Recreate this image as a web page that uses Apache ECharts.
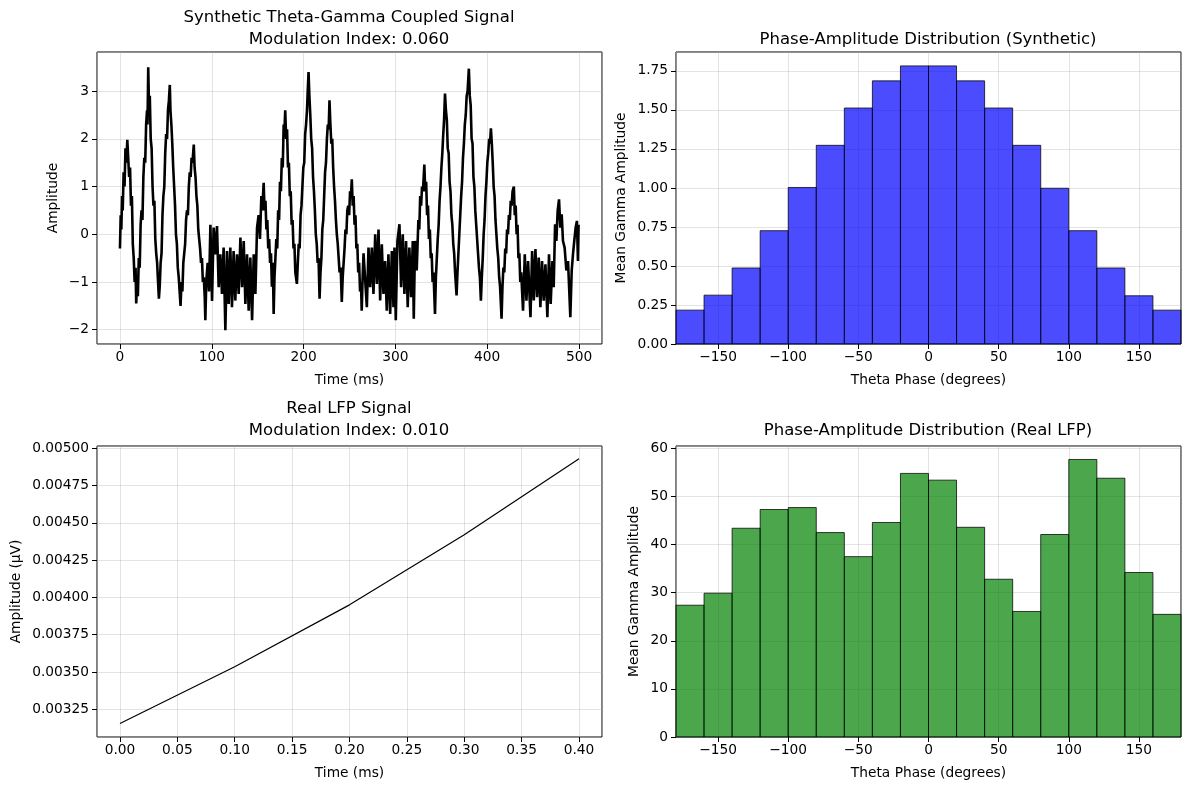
<!DOCTYPE html>
<html>
<head>
<meta charset="utf-8">
<title>Theta-Gamma Coupling</title>
<script src="https://cdn.jsdelivr.net/npm/echarts@6/dist/echarts.min.js"></script>
<style>
  html, body { margin: 0; padding: 0; background: #fff; }
  #main { width: 1189px; height: 790px; }
</style>
</head>
<body>
<div id="main"></div>
<script>
// synthetic signal (ms, amplitude)
const synthTime = [
  0, 0.8, 1.5, 2.3, 3, 4, 5, 6, 7, 8, 9, 10, 11, 12, 13, 14, 15, 16, 17, 17.7, 18.5, 19.5, 20.5, 21.5, 22.5, 23.5, 24.5, 25.5, 26.5, 27.5,
  28.5, 29.5, 30, 30.8, 31.5, 32.5, 33.5, 34.5, 35.5, 36.5, 37.5, 38.5, 39.5, 40.5, 41.5, 42.4, 43.3, 44.3, 45.3, 46.3, 47.3, 48.3, 49.3,
  50.3, 51.3, 52.3, 53.3, 54.3, 55, 56, 57, 58, 59, 60, 61, 62, 63, 64, 65, 66, 67, 68, 69, 70, 71, 72, 73, 74, 75, 76, 77, 78, 79, 80.4,
  81.3, 82.3, 83.3, 84.3, 85.3, 86.3, 87.3, 88.3, 89.3, 90.3, 91.3, 92.3, 93, 94,
  95.5, 97, 98.5, 100.3, 102, 103.8, 105.7, 107.5, 109.3, 111.1, 112.9, 114.8, 116.6, 118.4, 120.2, 122, 123.8, 125.6, 127.5, 129.3,
  131.2, 133, 134.8, 136.6, 138.4, 140.2, 142, 143.9, 145.7, 147.5, 149.3,
  151, 152.5, 154, 155, 156.5, 157.5, 158.5, 159.5, 160.5, 161.5, 162.5, 163.5, 164.5, 165.5, 166.5, 167.4, 168.3, 169.3, 170.3, 171.3,
  172.3, 173.3, 174.3, 175.3, 176.3, 177.3, 178.3, 179, 180, 181, 182, 183, 184, 185, 186, 187, 188, 189, 190, 191, 192.7, 193.7, 194.7,
  195.7, 196.7, 197.7, 198.7, 199.7, 200.7, 201.7, 202.7, 203.7, 204.5, 205.4, 206.3, 207.3, 208.3, 209.3, 210.3, 211.3, 212.3, 213.3,
  214.3, 215.3, 216.3, 217.4, 218.4, 219.4, 220.4, 221.4, 222.4, 223.4, 224.4, 225.4, 226.4, 227.3, 228.2, 229.2, 230.2, 231.2, 232.2,
  233.2, 234.2, 235.2, 236.2, 237.2, 238.2, 239.2, 240.4, 241.6, 242.6, 243.6, 244.6, 245.6, 246.6, 247.6, 248.6, 249.6, 250.6, 251.6,
  252.5, 253.5, 254.5, 255.5, 256.5, 257.5, 258.5, 259.5, 260.5, 261.5, 262.5, 263.3, 264.3, 265.3,
  267.1, 268.9, 270.7, 272.5, 274.3, 276.1, 278, 279.8, 281.6, 283.4, 285.2, 287, 288.8, 290.6, 292.4, 294.3, 296.1, 297.9, 299, 300.4,
  302.2, 304.4, 306.2, 308, 309.8, 311.6, 313.4, 315.2, 317.1, 318.9, 320, 321.4, 323.2,
  324, 325, 326, 327, 328, 329, 330, 331.5, 332.5, 333.5, 334.5, 335.5, 336.5, 337.5, 338.5, 339.5, 340.5, 341.5, 343.1, 344.1, 345.1,
  346.1, 347.1, 348.1, 349.1, 350.1, 351.1, 352.1, 353, 354, 355, 356, 357, 358, 359, 360, 361, 362, 363, 364, 365, 366.6, 367.6, 368.6,
  369.6, 370.6, 371.6, 372.6, 373.6, 374.6, 375.6, 376.6, 377.6, 378.6, 380, 381, 382, 383, 384, 385, 386, 387, 388, 389, 390, 391, 392,
  393.1, 394.1, 395.1, 396.1, 397.1, 398.1, 399.1, 400.1, 401.1, 402.1, 403, 404, 405, 406, 407, 408, 409, 410, 411, 412, 413, 414,
  415.6, 416.6, 417.6, 418.6, 419.6, 420.6, 421.6, 422.6, 423.6, 424.6, 425.6, 426.6, 427.6, 429, 430, 431, 432, 433, 434, 435, 436, 437, 439,
  440.9, 442.7, 444.5, 447.1, 448.9, 450.7, 452.5, 454.3, 456.1, 457.9, 459.7, 461.5, 463.4, 465.5, 467.3, 469.1, 471, 472.4,
  473.9, 475.3, 476.7, 478.2, 479.6, 481.1, 482.5, 484.3, 486.2, 488, 490.5, 492, 493.4, 494.8, 496.3, 497.7, 498.8, 499.5
];
const synthAmp = [
  -0.3, 0.4, 0.1, 0.8, 0.5, 1.3, 1.0, 1.8, 1.5, 1.98, 1.6, 1.2, 1.4, 0.6, 0.8, -0.2, -0.5, -1.0, -0.7, -1.45, -1.1, -1.3, -0.5, -0.7, 0.2, 0.5, 0.3, 1.2, 1.6, 1.5,
  2.3, 2.6, 2.3, 3.5, 2.8, 2.9, 2.0, 1.8, 1.0, 0.6, 0.7, -0.1, -0.4, -0.6, -1.0, -1.35, -1.1, -0.6, -0.4, 0.4, 0.8, 1.0, 1.7,
  2.1, 2.0, 2.6, 2.8, 3.13, 2.6, 2.3, 1.9, 1.4, 1.0, 0.6, 0.0, -0.2, -0.7, -0.9, -1.2, -1.5, -1.0, -1.2, -0.6, -0.4, -0.2, 0.3, 0.5, 0.4, 1.0, 1.3, 1.2, 1.6, 1.5, 1.88,
  1.4, 1.2, 0.8, 0.6, 0.1, -0.1, -0.3, -0.6, -0.5, -1.0, -0.9, -1.3, -1.8, -1.0,
  -0.6, -1.2, 0.2, -1.4, 0.14, -0.42, 0.17, -1.11, -0.42, -1.25, -0.28, -2.01, -0.35, -1.46, -0.28, -1.53, -0.35, -1.39, -0.42, -1.25,
  -0.07, -1.11, -0.14, -1.46, -0.42, -1.6, -0.49, -1.8, -0.42, -1.25, 0.14,
  0.4, -0.1, 0.8, 0.5, 1.08, 0.5, 0.7, 0.1, 0.3, -0.3, -0.1, -0.6, -0.4, -1.1, -0.6, -1.67, -0.9, -0.5, -0.1, -0.3,
  0.5, 0.3, 1.1, 0.9, 1.6, 1.4, 2.3, 2.1, 2.6, 2.0, 2.2, 1.4, 1.5, 0.8, 0.9, 0.2, 0.3, -0.3, -0.2, -0.8, -1.04, -0.6, -0.2,
  -0.3, 0.4, 0.6, 1.0, 1.4, 1.5, 2.1, 2.3, 2.6, 3.0, 3.4, 2.9, 2.5, 2.0, 1.8, 1.2, 0.9, 0.5, 0.0,
  -0.2, -0.6, -0.5, -1.35, -0.8, -0.5, 0.1, 0.3, 0.8, 1.3, 1.5, 2.0, 2.3, 2.2, 2.81, 2.3, 1.9, 2.0, 1.4,
  1.0, 0.7, 0.3, 0.0, -0.2, -0.5, -0.8, -0.7, -1.42, -0.9, -0.6, -0.3, 0.1, 0.0, 0.5, 0.6, 0.4, 0.9, 0.8,
  1.15, 0.6, 0.8, 0.2, 0.4, -0.3, -0.2, -0.8, -0.6, -1.2, -1.0, -1.6, -0.9, -0.4,
  -0.42, -1.53, -0.28, -1.11, -0.28, -1.25, 0.0, -1.04, 0.1, -1.39, -0.21, -1.25, -0.56, -1.6, -0.42, -1.67, -0.35, -1.53, -0.28, -1.8,
  -0.14, 0.21, -1.11, 0.0, -1.25, -0.14, -1.53, -0.28, -1.32, -0.14, -1.77, -0.14, -0.76,
  -0.3, 0.3, 0.1, 0.8, 0.6, 1.0, 0.9, 1.46, 0.9, 1.1, 0.4, 0.6, -0.1, 0.1, -0.5, -0.4, -1.0, -0.8, -1.67, -0.9, -0.5,
  -0.1, 0.2, 0.7, 1.0, 1.4, 1.7, 2.1, 2.4, 2.95, 2.6, 2.4, 1.8, 1.7, 1.1, 0.9, 0.4, 0.2, -0.2, -0.4, -0.8, -1.28, -0.8, -0.4,
  0.0, 0.4, 0.8, 1.1, 1.6, 1.9, 2.3, 2.5, 2.9, 3.0, 3.47, 2.9, 2.7, 2.0, 1.9, 1.2, 1.0, 0.5, 0.2, -0.1, -0.4, -0.7, -0.9,
  -1.39, -0.9, -0.5, 0.0, 0.3, 0.8, 1.1, 1.5, 1.7, 2.0, 1.9, 2.22, 1.9, 1.5, 1.0, 0.8, 0.3, 0.0, -0.3, -0.5, -0.9, -1.1,
  -1.77, -1.1, -0.7, -0.8, -0.3, -0.4, 0.1, 0.0, 0.4, 0.3, 0.7, 0.6, 0.9, 1.0, 0.4, 0.6, 0.0, 0.2, -0.5, -0.4, -1.0, -0.8, -1.6,
  -0.42, -1.39, -0.56, -1.74, -0.35, -1.39, -0.31, -1.32, -0.49, -1.53, -0.56, -1.39, -0.63, -1.74, -0.42, -1.46, -0.56, -1.11,
  0.21, -0.14, 0.49, 0.73, 0.14, 0.42, -0.14, -0.28, -0.76, -0.56, -1.74, -0.76, -0.42, -0.14, 0.14, 0.28, -0.56, 0.2
];

// real LFP trace
const lfpTime = [0, 0.1, 0.2, 0.3, 0.4];
const lfpAmp = [0.003155, 0.003535, 0.00395, 0.00442, 0.00493];

// phase bins (degrees) and mean gamma amplitude per bin
const phaseEdges = [-180, -160, -140, -120, -100, -80, -60, -40, -20, 0, 20, 40, 60, 80, 100, 120, 140, 160, 180];
const synthPac = [0.217, 0.313, 0.487, 0.726, 1.003, 1.273, 1.512, 1.686, 1.782, 1.782, 1.686, 1.512, 1.273, 0.998, 0.726, 0.487, 0.309, 0.217];
const realPac = [27.4, 29.9, 43.4, 47.3, 47.7, 42.5, 37.5, 44.6, 54.8, 53.4, 43.6, 32.8, 26.1, 42.1, 57.7, 53.8, 34.2, 25.5];

const FONT = 'DejaVu Sans';
const GRID_LINE = 'rgba(176,176,176,0.35)';

function num(v, d) {
  return (v < 0 ? '\u2212' : '') + Math.abs(v).toFixed(d);
}

// showMin: keep the label at min when min is itself a round tick (0 on the histograms)
function valueAxis(gridIndex, min, max, step, digits, name, gap, isY, showMin) {
  return {
    type: 'value',
    gridIndex: gridIndex,
    min: min,
    max: max,
    minInterval: step,
    maxInterval: step,
    name: name,
    nameLocation: 'middle',
    nameGap: gap,
    nameTextStyle: { fontFamily: FONT, fontSize: 13.75, color: '#000' },
    axisLine: { show: false, onZero: false },
    axisTick: { show: true, length: 5, lineStyle: { color: '#000', width: 1 } },
    axisLabel: {
      fontFamily: FONT, fontSize: 13.75, color: '#000',
      margin: isY ? 8 : 6,
      showMinLabel: !!showMin, showMaxLabel: false,
      formatter: v => num(v, digits)
    },
    splitLine: { show: true, lineStyle: { color: GRID_LINE, width: 1 } }
  };
}

function binData(values) {
  return values.map((v, i) => [phaseEdges[i], phaseEdges[i + 1], v]);
}

function histSeries(idx, values, fill) {
  return {
    type: 'custom',
    xAxisIndex: idx,
    yAxisIndex: idx,
    encode: { x: [0, 1], y: 2 },
    data: binData(values),
    renderItem: function (params, api) {
      let p0 = api.coord([api.value(0), 0]);
      let p1 = api.coord([api.value(1), api.value(2)]);
      return {
        type: 'rect',
        shape: { x: p0[0], y: p1[1], width: p1[0] - p0[0], height: p0[1] - p1[1] },
        style: { fill: fill, stroke: 'rgba(0,0,0,0.75)', lineWidth: 1 }
      };
    }
  };
}

const titleStyle = { fontFamily: FONT, fontSize: 16.5, fontWeight: 'normal', color: '#000', lineHeight: 22 };

let chartDom = document.getElementById('main');
let myChart = echarts.init(chartDom, null, { renderer: 'canvas' });
let option;

option = {
  animation: false,
  backgroundColor: '#fff',
  title: [
    { text: 'Synthetic Theta-Gamma Coupled Signal\nModulation Index: 0.060', left: 349, top: 7, padding: 0, textAlign: 'center', textStyle: titleStyle },
    { text: 'Phase-Amplitude Distribution (Synthetic)', left: 928, top: 29, padding: 0, textAlign: 'center', textStyle: titleStyle },
    { text: 'Real LFP Signal\nModulation Index: 0.010', left: 349, top: 398, padding: 0, textAlign: 'center', textStyle: titleStyle },
    { text: 'Phase-Amplitude Distribution (Real LFP)', left: 928, top: 420, padding: 0, textAlign: 'center', textStyle: titleStyle }
  ],
  grid: [
    { left: 97, top: 52, width: 505, height: 292, show: true, borderColor: '#000', borderWidth: 1, backgroundColor: 'transparent' },
    { left: 676, top: 52, width: 505, height: 292, show: true, borderColor: '#000', borderWidth: 1, backgroundColor: 'transparent' },
    { left: 97, top: 446, width: 505, height: 291, show: true, borderColor: '#000', borderWidth: 1, backgroundColor: 'transparent' },
    { left: 676, top: 446, width: 505, height: 291, show: true, borderColor: '#000', borderWidth: 1, backgroundColor: 'transparent' }
  ],
  xAxis: [
    valueAxis(0, -25, 525, 100, 0, 'Time (ms)', 29, false),
    valueAxis(1, -180, 180, 50, 0, 'Theta Phase (degrees)', 29, false),
    valueAxis(2, -0.02, 0.42, 0.05, 2, 'Time (ms)', 29, false),
    valueAxis(3, -180, 180, 50, 0, 'Theta Phase (degrees)', 29, false)
  ],
  yAxis: [
    valueAxis(0, -2.3, 3.82, 1, 0, 'Amplitude', 37, true),
    valueAxis(1, 0, 1.871, 0.25, 2, 'Mean Gamma Amplitude', 48, true, true),
    valueAxis(2, 0.003064, 0.005015, 0.00025, 5, 'Amplitude (\u03bcV)', 74, true),
    valueAxis(3, 0, 60.5, 10, 0, 'Mean Gamma Amplitude', 35, true, true)
  ],
  series: [
    {
      name: 'Synthetic',
      type: 'line',
      xAxisIndex: 0,
      yAxisIndex: 0,
      showSymbol: false,
      data: synthTime.map((t, i) => [t, synthAmp[i]]),
      lineStyle: { color: '#000', width: 2.6, join: 'bevel' }
    },
    histSeries(1, synthPac, 'rgba(0,0,255,0.7)'),
    {
      name: 'Real LFP',
      type: 'line',
      xAxisIndex: 2,
      yAxisIndex: 2,
      showSymbol: false,
      data: lfpTime.map((t, i) => [t, lfpAmp[i]]),
      lineStyle: { color: '#000', width: 1.2 }
    },
    histSeries(3, realPac, 'rgba(0,128,0,0.7)')
  ]
};

myChart.setOption(option, true);
</script>
</body>
</html>
